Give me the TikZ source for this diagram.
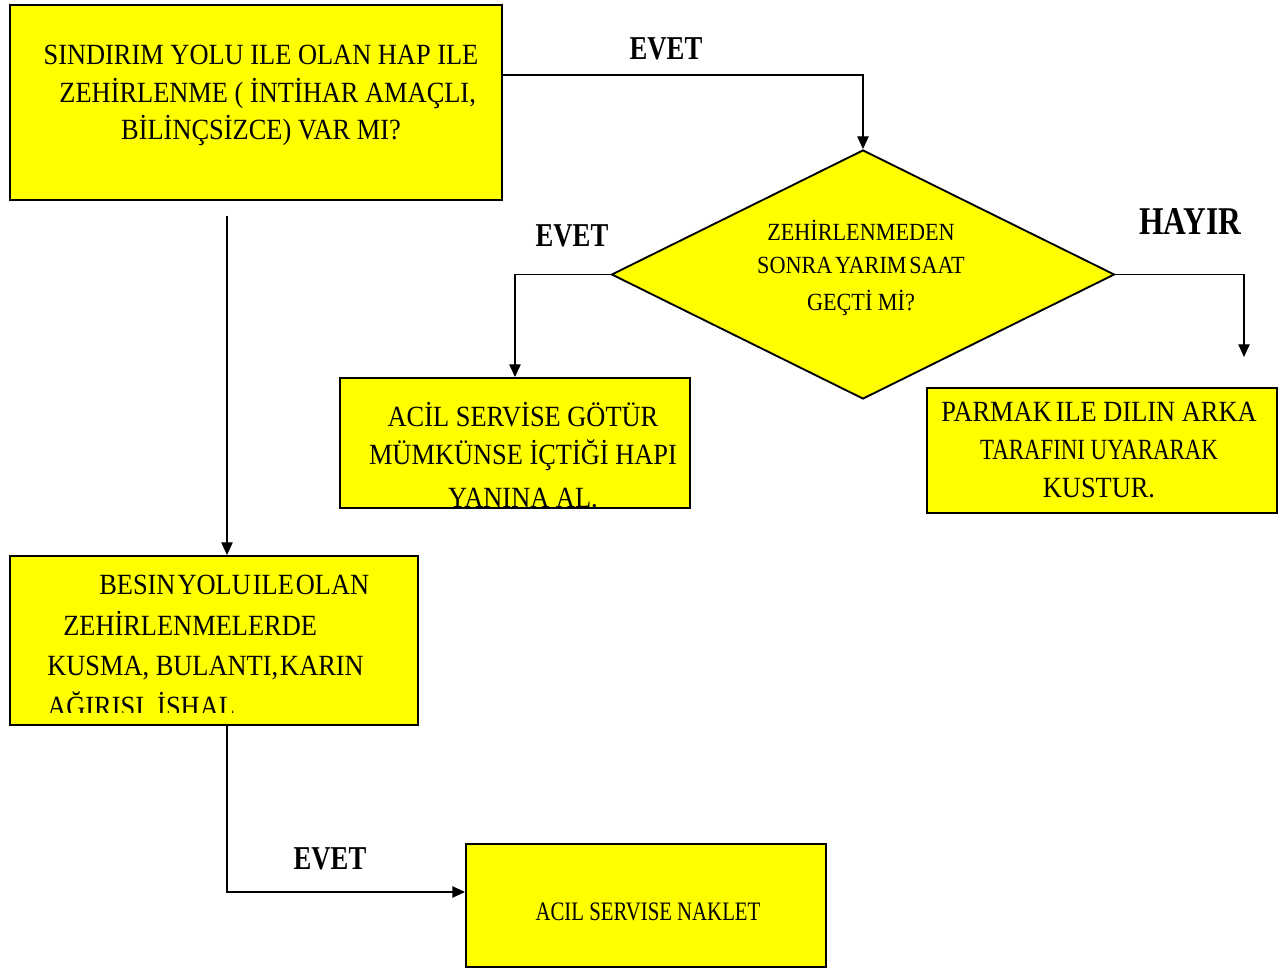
\documentclass[tikz,border=0pt]{standalone}
\usepackage{fontspec}
\setmainfont{Liberation Serif}[FakeStretch=0.9]
\newfontfamily\narrowfont{Liberation Serif}[FakeStretch=0.78]
\newfontfamily\lblfont{Liberation Serif}[FakeStretch=0.8]
\usetikzlibrary{shapes.geometric,calc,fit,arrows.meta}
\definecolor{yel}{RGB}{255,255,0}
\begin{document}
\begin{tikzpicture}[x=0.75pt,y=-0.75pt,
  box/.style={draw, line width=1.4pt, fill=yel, inner sep=0pt},
  txt/.style={align=center, inner sep=0pt, font=\fontsize{22}{28.2}\selectfont},
  lbl/.style={inner sep=0pt, font=\lblfont\bfseries\fontsize{25}{30}\selectfont},
  arr/.style={line width=0.9pt, -{Triangle[length=9.5pt,width=8.5pt]}}]
\useasboundingbox (0,0) rectangle (1283,969);

% boxes
\node[box, fit={(10,5) (502,200)}] (box1) {};
\node[diamond, draw, line width=1.4pt, fill=yel, inner sep=0pt,
      minimum width=377.25pt, minimum height=186.75pt] (d) at (863,274.5) {};
\node[box, fit={(340,378) (690,508)}] (acil) {};
\node[box, fit={(927,388) (1277,513)}] (parmak) {};
\node[box, fit={(10,556) (418,725)}] (besin) {};
\node[box, fit={(466,844) (826,967)}] (naklet) {};

% texts
\node[txt] (t1) at (261,95.5) {SINDIRIM YOLU ILE OLAN HAP ILE\\ \hspace*{10pt}ZEHİRLENME ( İNTİHAR AMAÇLI,\\ BİLİNÇSİZCE) VAR MI?};
\node[txt, font=\fontsize{18.5}{25}\selectfont] (td) at (861,268) {ZEHİRLENMEDEN\\ SONRA\hspace{2pt}YARIM\hspace{2pt}SAAT\\[3pt] GEÇTİ Mİ?};
\begin{scope}
  \clip (330,370) rectangle (700,513);
  \node[txt] (ta) at (523,455) {ACİL SERVİSE GÖTÜR\\ MÜMKÜNSE İÇTİĞİ HAPI\\[4pt] YANINA AL.};
\end{scope}
\node[txt] (tp) at (1099,450) {PARMAK\hspace{3pt}ILE DILIN ARKA\\ {\narrowfont TARAFINI UYARARAK}\\ KUSTUR.};
\begin{scope}
  \clip (0,545) rectangle (430,713);
  \node[txt, align=left, anchor=west, font=\fontsize{22}{30.5}\selectfont] (tb) at (47,648)
    {\hspace*{39pt}BESIN\hspace{1.5pt}YOLU\hspace{1.5pt}ILE\hspace{1.5pt}OLAN\\ \hspace*{12pt}ZEHİRLENMELERDE\\ KUSMA, BULANTI,\hspace{1.5pt}KARIN\\ AĞIRISI, İSHAL.};
\end{scope}
\node[txt, font=\narrowfont\fontsize{20}{24}\selectfont] (tn) at (648,912) {ACIL SERVISE NAKLET};

% labels
\node[lbl] (l1) at (666,49) {EVET};
\node[lbl] (l2) at (572,236) {EVET};
\node[lbl] (l3) at (330,859) {EVET};
\node[lbl, font=\lblfont\bfseries\fontsize{29.5}{32}\selectfont] (l4) at (1190,222) {HAYIR};

% connectors
\draw[arr] ($(box1.north east)+(0,71)$) -| (d.north);
\draw[arr] (d.west) -| (acil.north);
\coordinate (hend) at (1244,357);
\draw[arr] (d.east) -| (hend);
\coordinate (vstart) at (227,216);
\draw[arr] (vstart) -- (vstart |- besin.north);
\draw[arr] (vstart |- besin.south) |- ($(naklet.west)+(0,-13.5)$);
\end{tikzpicture}
\end{document}
